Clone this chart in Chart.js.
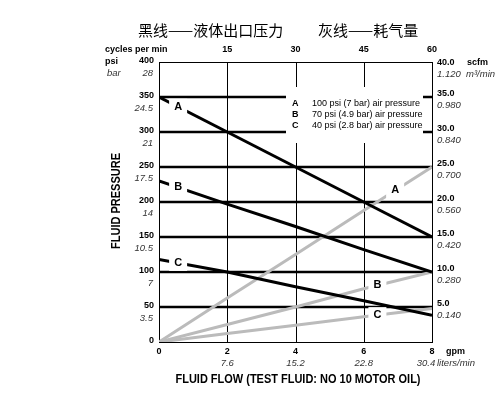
<!DOCTYPE html>
<html lang="zh">
<head>
<meta charset="UTF-8">
<title>Fluid pressure / air consumption</title>
<script src="https://cdn.jsdelivr.net/npm/chart.js"></script>
<style>
    body { margin: 0; background: #fff; }
    #wrap { width: 504px; height: 394px; }
</style>
</head>
<body>
<div id="wrap"><canvas id="chart" width="504" height="394"></canvas></div>
<script>
// flow in gpm (bottom axis)
const gpm = [0, 2, 4, 6, 8];
// black lines: fluid outlet pressure, psi
const psiA = [350, 300, 250, 200, 150];
const psiB = [230, 197, 165, 132, 100];
const psiC = [118, 100, 79, 59, 38];
// grey lines: air consumption, scfm
const scfmA = [0, 6.3, 12.5, 18.8, 25];
const scfmB = [0, 2.5, 5, 7.6, 10];
const scfmC = [0, 1.2, 2.4, 3.6, 4.8];

// tick labels
const psiTicks = [0, 50, 100, 150, 200, 250, 300, 350, 400];
const barLabels = ['', '3.5', '7', '10.5', '14', '17.5', '21', '24.5', '28'];
const scfmTicks = [5, 10, 15, 20, 25, 30, 35, 40];
const scfmLabels = ['5.0', '10.0', '15.0', '20.0', '25.0', '30.0', '35.0', '40.0'];
const m3Labels = ['0.140', '0.280', '0.420', '0.560', '0.700', '0.840', '0.980', '1.120'];
const lpmLabels = ['', '7.6', '15.2', '22.8', '30.4'];
const cpmTicks = [15, 30, 45, 60];

const legendRows = [
    ['A', '100 psi (7 bar) air pressure'],
    ['B', '70 psi (4.9 bar) air pressure'],
    ['C', '40 psi (2.8 bar) air pressure']
];

const BOLD = 'bold 9px "Liberation Sans", Arial, sans-serif';
const ITAL = 'italic 9.5px "Liberation Sans", Arial, sans-serif';

function pts(ys) { return gpm.map((x, i) => ({ x: x, y: ys[i] })); }

function lineSet(ys, axis, color, order, tag, at) {
    return {
        data: pts(ys), yAxisID: axis, borderColor: color, borderWidth: 3,
        pointRadius: 0, tension: 0, fill: false, order: order,
        borderCapStyle: 'butt', tag: tag, labelAt: at
    };
}

// value of a dataset at gpm x (straight segments)
function valueAt(ds, x) {
    const d = ds.data;
    for (let i = 0; i < d.length - 1; i++) {
        if (x >= d[i].x && x <= d[i + 1].x) {
            const t = (x - d[i].x) / (d[i + 1].x - d[i].x);
            return d[i].y + t * (d[i + 1].y - d[i].y);
        }
    }
    return d[d.length - 1].y;
}

const gridPlugin = {
    id: 'grid',
    beforeDatasetsDraw(chart) {
        const { ctx, chartArea: a, scales } = chart;
        ctx.save();
        ctx.strokeStyle = '#000';
        ctx.lineWidth = 1;
        gpm.slice(1, -1).forEach(v => {
            const x = Math.round(scales.x.getPixelForValue(v)) + 0.5;
            ctx.beginPath(); ctx.moveTo(x, a.top); ctx.lineTo(x, a.bottom); ctx.stroke();
        });
        ctx.lineWidth = 2.5;
        psiTicks.slice(1, -1).forEach(v => {
            const y = scales.y.getPixelForValue(v);
            ctx.beginPath(); ctx.moveTo(a.left, y); ctx.lineTo(a.right, y); ctx.stroke();
        });
        ctx.lineWidth = 1;
        ctx.strokeRect(Math.round(a.left) + 0.5, Math.round(a.top) + 0.5,
            Math.round(a.right - a.left), Math.round(a.bottom - a.top));
        ctx.restore();
    },
    afterDatasetsDraw(chart) {
        const { ctx, chartArea: a, scales } = chart;
        ctx.save();

        // legend box
        ctx.fillStyle = '#fff';
        ctx.fillRect(286, 87, 137, 56);
        ctx.fillStyle = '#000';
        ctx.textBaseline = 'middle';
        legendRows.forEach((r, i) => {
            const y = 104 + i * 11;
            ctx.font = 'bold 9px "Liberation Sans", Arial, sans-serif';
            ctx.textAlign = 'left';
            ctx.fillText(r[0], 292, y);
            ctx.font = '9px "Liberation Sans", Arial, sans-serif';
            ctx.fillText(r[1], 312, y);
        });

        // line letters sitting in gaps of the lines
        chart.data.datasets.forEach(ds => {
            const scaleY = scales[ds.yAxisID];
            const px = scales.x.getPixelForValue(ds.labelAt);
            const py = scaleY.getPixelForValue(valueAt(ds, ds.labelAt));
            ctx.fillStyle = '#fff';
            ctx.fillRect(px - 9, py - 8, 18, 16);
            ctx.fillStyle = '#000';
            ctx.font = 'bold 11px "Liberation Sans", Arial, sans-serif';
            ctx.textAlign = 'center';
            ctx.fillText(ds.tag, px, py);
        });

        // left axis: psi + bar
        ctx.textAlign = 'right';
        psiTicks.forEach((v, i) => {
            const y = scales.y.getPixelForValue(v);
            ctx.font = BOLD; ctx.fillStyle = '#000';
            ctx.fillText(String(v), 154, y - 1);
            if (barLabels[i]) {
                ctx.font = ITAL; ctx.fillStyle = '#333';
                ctx.fillText(barLabels[i], 153, y + 11);
            }
        });
        ctx.textAlign = 'left';
        ctx.font = BOLD; ctx.fillStyle = '#000';
        ctx.fillText('psi', 105, 62);
        ctx.font = ITAL; ctx.fillStyle = '#333';
        ctx.fillText('bar', 107, 73);

        // right axis: scfm + m3/min
        scfmTicks.forEach((v, i) => {
            const y = scales.y2.getPixelForValue(v);
            const top = i === scfmTicks.length - 1;
            ctx.font = BOLD; ctx.fillStyle = '#000';
            ctx.fillText(scfmLabels[i], 437, top ? y + 1 : y - 3);
            ctx.font = ITAL; ctx.fillStyle = '#333';
            ctx.fillText(m3Labels[i], 437, top ? y + 12 : y + 8);
        });
        ctx.font = BOLD; ctx.fillStyle = '#000';
        ctx.fillText('scfm', 467, 63);
        ctx.font = ITAL; ctx.fillStyle = '#333';
        ctx.fillText('m³/min', 466, 74);

        // bottom axis: gpm + liters/min
        ctx.textAlign = 'center';
        gpm.forEach((v, i) => {
            const x = scales.x.getPixelForValue(v);
            ctx.font = BOLD; ctx.fillStyle = '#000';
            ctx.fillText(String(v), x, 352);
            if (lpmLabels[i]) {
                ctx.font = ITAL; ctx.fillStyle = '#333';
                ctx.fillText(lpmLabels[i], i === gpm.length - 1 ? x - 6 : x, 363);
            }
        });
        ctx.textAlign = 'left';
        ctx.font = BOLD; ctx.fillStyle = '#000';
        ctx.fillText('gpm', 446, 352);
        ctx.font = ITAL; ctx.fillStyle = '#333';
        ctx.fillText('liters/min', 437, 363);

        // top axis: cycles per min
        ctx.fillStyle = '#000';
        ctx.font = BOLD;
        ctx.fillText('cycles per min', 105, 50);
        ctx.textAlign = 'center';
        cpmTicks.forEach(v => {
            ctx.fillText(String(v), scales.x2.getPixelForValue(v), 50);
        });

        // axis titles
        ctx.font = 'bold 12px "Liberation Sans", Arial, sans-serif';
        ctx.fillText('FLUID FLOW (TEST FLUID: NO 10 MOTOR OIL)', 298, 380, 245);
        ctx.save();
        ctx.translate(117, 201);
        ctx.rotate(-Math.PI / 2);
        ctx.fillText('FLUID PRESSURE', 0, 0, 96);
        ctx.restore();

        // chinese header
        ctx.textAlign = 'left';
        ctx.font = '15px "Noto Sans CJK SC", sans-serif';
        ctx.fillText('黑线——液体出口压力', 138, 30);
        ctx.fillText('灰线——耗气量', 318, 30);

        ctx.restore();
    }
};

new Chart(document.getElementById('chart'), {
    type: 'line',
    data: {
        datasets: [
            lineSet(psiA, 'y', '#000', 1, 'A', 0.56),
            lineSet(psiB, 'y', '#000', 1, 'B', 0.56),
            lineSet(psiC, 'y', '#000', 1, 'C', 0.56),
            lineSet(scfmA, 'y2', '#bbb', 2, 'A', 6.92),
            lineSet(scfmB, 'y2', '#bbb', 2, 'B', 6.4),
            lineSet(scfmC, 'y2', '#bbb', 2, 'C', 6.4)
        ]
    },
    options: {
        responsive: false,
        animation: false,
        layout: { padding: { left: 159, right: 72, top: 62, bottom: 52 } },
        plugins: { legend: { display: false }, tooltip: { enabled: false } },
        scales: {
            x: { type: 'linear', min: 0, max: 8, display: false },
            x2: { type: 'linear', min: 0, max: 60, display: false, position: 'top' },
            y: { min: 0, max: 400, display: false },
            y2: { min: 0, max: 40, display: false, position: 'right' }
        }
    },
    plugins: [gridPlugin]
});
</script>
</body>
</html>
